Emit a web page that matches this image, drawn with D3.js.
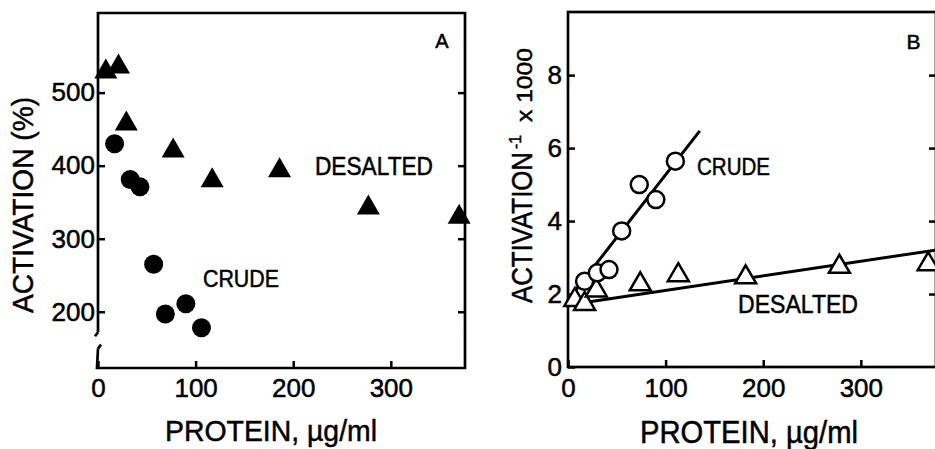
<!DOCTYPE html>
<html>
<head>
<meta charset="utf-8">
<script src="https://cdn.jsdelivr.net/npm/d3@7"></script>
<style>
  body { margin: 0; background: #fff; }
  svg { display: block; font-family: "Liberation Sans", Arial, sans-serif; }
  svg text { fill: #000; stroke: #000; stroke-width: 0.5; }
  .axis text { font-size: 26px; }
  .axis line { stroke: #000; stroke-width: 2.5; }
  .frame { fill: none; stroke: #000; stroke-width: 2.7; }
</style>
</head>
<body>
<div id="chart"></div>
<script>
// PANEL A: activation (%) vs protein
var crudeProteinA = [17, 33, 43, 57, 69, 90, 106];
var crudeActivationA = [430, 381, 371, 265, 197, 211, 178];
var desaltedProteinA = [8, 21, 29, 77, 117, 186, 277, 370];
var desaltedActivationA = [533, 540, 462, 425, 384, 398, 347, 334];

// PANEL B: activation^-1 x 1000 vs protein
var crudeProteinB = [17, 30, 42, 55, 73, 90, 110];
var crudeRecipB = [2.35, 2.58, 2.67, 3.73, 5.0, 4.59, 5.64];
var desaltedProteinB = [7, 17, 29, 74, 113, 182, 278, 369];
var desaltedRecipB = [1.92, 1.81, 2.18, 2.35, 2.60, 2.54, 2.83, 2.90];

// fitted lines, end points
var crudeLineX = [8, 135], crudeLineY = [2.11, 6.47];
var desaltedLineX = [5, 378], desaltedLineY = [1.72, 3.21];

var xTicks = [0, 100, 200, 300];
var yTicksA = [200, 300, 400, 500];
var yTicksB = [0, 2, 4, 6, 8];

var width = 935, height = 449;

var svg = d3.select('#chart').append('svg')
  .attr('width', width)
  .attr('height', height);

// SCALES
var xA = d3.scaleLinear().domain([0, 376]).range([98, 465]);
var yA = d3.scaleLinear().domain([123, 609]).range([368, 13]);
var xB = d3.scaleLinear().domain([0, 377]).range([568, 936]);
var yB = d3.scaleLinear().domain([0, 9.73]).range([367, 12]);

function zip(xs, ys) {
  return xs.map(function (x, i) { return { x: x, y: ys[i] }; });
}

function triangle(w, h) {
  return 'M0,' + (-h / 2) + 'L' + (w / 2) + ',' + (h / 2) + 'L' + (-w / 2) + ',' + (h / 2) + 'Z';
}

function translation(x, y) {
  return 'translate(' + x + ',' + y + ')';
}

function addText(txt, x, y, size, len, anchor, rot) {
  var t = svg.append('text')
    .attr('transform', translation(x, y) + (rot ? ' rotate(-90)' : ''))
    .attr('text-anchor', anchor || 'start')
    .style('font-size', size + 'px')
    .text(txt);
  if (len) t.attr('textLength', len).attr('lengthAdjust', 'spacingAndGlyphs');
  return t;
}

// ---------- PANEL A ----------
svg.append('g')
  .attr('class', 'axis')
  .attr('transform', translation(xA.range()[0], 0))
  .call(d3.axisLeft(yA).tickValues(yTicksA).tickSize(-7).tickSizeOuter(0).tickPadding(3))
  .call(function (g) { g.select('.domain').remove(); });

svg.append('g')
  .attr('class', 'axis')
  .attr('transform', translation(xA.range()[1], 0))
  .call(d3.axisRight(yA).tickValues(yTicksA).tickSize(-7).tickSizeOuter(0).tickFormat(''))
  .call(function (g) { g.select('.domain').remove(); });

svg.append('g')
  .attr('class', 'axis')
  .attr('transform', translation(0, yA.range()[0]))
  .call(d3.axisBottom(xA).tickValues(xTicks).tickSize(-7).tickSizeOuter(0).tickPadding(11))
  .call(function (g) { g.select('.domain').remove(); });

// frame with axis break
var ax0 = xA.range()[0], ax1 = xA.range()[1], ay0 = yA.range()[0], ay1 = yA.range()[1];
var brkTop = yA(172), brkBot = yA(155);
svg.append('path')
  .attr('class', 'frame')
  .attr('d',
    'M' + ax0 + ',' + brkTop + 'L' + ax0 + ',' + ay1 + 'L' + ax1 + ',' + ay1 +
    'L' + ax1 + ',' + ay0 + 'L' + (ax0 - 1) + ',' + ay0 + 'L' + ax0 + ',' + (brkBot + 4) +
    'M' + ax0 + ',' + (brkBot + 4) + 'L' + (ax0 + 3) + ',' + brkBot +
    'M' + ax0 + ',' + brkTop + 'L' + (ax0 - 3) + ',' + (brkTop + 4));

svg.append('g').selectAll('path')
  .data(zip(desaltedProteinA, desaltedActivationA))
  .enter().append('path')
  .attr('d', triangle(23, 20))
  .attr('transform', function (d) { return translation(xA(d.x), yA(d.y)); })
  .attr('fill', '#000');

svg.append('g').selectAll('circle')
  .data(zip(crudeProteinA, crudeActivationA))
  .enter().append('circle')
  .attr('cx', function (d) { return xA(d.x); })
  .attr('cy', function (d) { return yA(d.y); })
  .attr('r', 9.5)
  .attr('fill', '#000');

addText('A', 442, 48, 20, null, 'middle');
addText('DESALTED', 315, 175, 25, 118);
addText('CRUDE', 203, 287, 24, 76);
addText('ACTIVATION (%)', 33, 205, 30, 216, 'middle', true);
addText('PROTEIN, \u00b5g/ml', 271, 441, 30, 212, 'middle');

// ---------- PANEL B ----------
svg.append('g')
  .attr('class', 'axis')
  .attr('transform', translation(xB.range()[0], 0))
  .call(d3.axisLeft(yB).tickValues(yTicksB).tickSize(-7).tickSizeOuter(0).tickPadding(6))
  .call(function (g) { g.select('.domain').remove(); });

svg.append('g')
  .attr('class', 'axis')
  .attr('transform', translation(xB.range()[1], 0))
  .call(d3.axisRight(yB).tickValues(yTicksB.slice(1)).tickSize(-7).tickSizeOuter(0).tickFormat(''))
  .call(function (g) { g.select('.domain').remove(); });

svg.append('g')
  .attr('class', 'axis')
  .attr('transform', translation(0, yB.range()[0]))
  .call(d3.axisBottom(xB).tickValues(xTicks).tickSize(-7).tickSizeOuter(0).tickPadding(12))
  .call(function (g) { g.select('.domain').remove(); });

var bx0 = xB.range()[0], bx1 = xB.range()[1], by0 = yB.range()[0], by1 = yB.range()[1];
svg.append('rect')
  .attr('class', 'frame')
  .attr('x', bx0).attr('y', by1)
  .attr('width', bx1 - bx0).attr('height', by0 - by1);

svg.append('clipPath').attr('id', 'clipB')
  .append('rect')
  .attr('x', bx0).attr('y', by1)
  .attr('width', bx1 - bx0).attr('height', by0 - by1);

var line = d3.line()
  .x(function (d) { return xB(d.x); })
  .y(function (d) { return yB(d.y); });

svg.append('path')
  .datum(zip(crudeLineX, crudeLineY))
  .attr('d', line)
  .attr('clip-path', 'url(#clipB)')
  .attr('fill', 'none').attr('stroke', '#000').attr('stroke-width', 3);

svg.append('path')
  .datum(zip(desaltedLineX, desaltedLineY))
  .attr('d', line)
  .attr('clip-path', 'url(#clipB)')
  .attr('fill', 'none').attr('stroke', '#000').attr('stroke-width', 3);

svg.append('g').selectAll('path')
  .data(zip(desaltedProteinB, desaltedRecipB))
  .enter().append('path')
  .attr('d', triangle(21, 18))
  .attr('transform', function (d) { return translation(xB(d.x), yB(d.y)); })
  .attr('fill', '#fff')
  .attr('stroke', '#000')
  .attr('stroke-width', 2.5)
  .attr('stroke-linejoin', 'miter');

svg.append('g').selectAll('circle')
  .data(zip(crudeProteinB, crudeRecipB))
  .enter().append('circle')
  .attr('cx', function (d) { return xB(d.x); })
  .attr('cy', function (d) { return yB(d.y); })
  .attr('r', 8.5)
  .attr('fill', '#fff')
  .attr('stroke', '#000')
  .attr('stroke-width', 2.5);

addText('B', 913.5, 49, 21, null, 'middle');
addText('CRUDE', 697, 175, 24, 73);
addText('DESALTED', 738, 313, 25, 120);
addText('ACTIVATION', 532, 303, 30, 151, 'start', true);
addText('-1', 521, 149, 16, 14, 'start', true);
addText('x 1000', 532, 122, 22, 74, 'start', true);
addText('PROTEIN, \u00b5g/ml', 749, 443, 31, 218, 'middle');
</script>
</body>
</html>
